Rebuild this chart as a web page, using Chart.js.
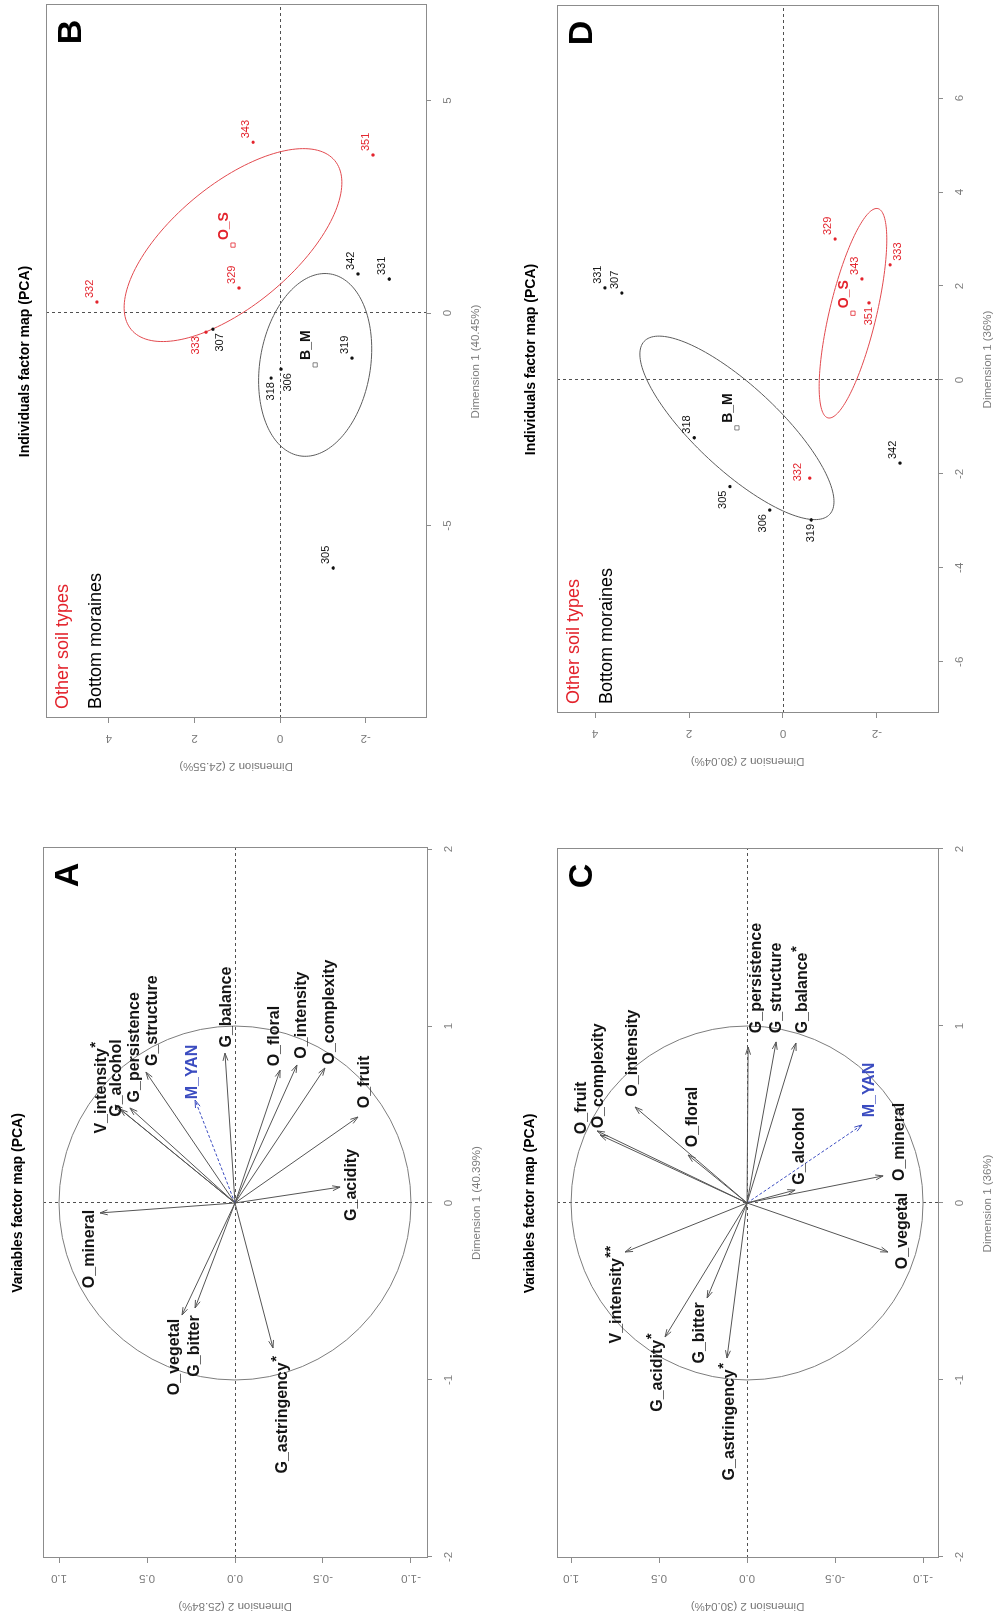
<!DOCTYPE html>
<html>
<head>
<meta charset="utf-8">
<title>PCA factor maps</title>
<script src="https://cdn.jsdelivr.net/npm/chart.js@4.4.1/dist/chart.umd.min.js"></script>
<style>
  html, body { margin: 0; padding: 0; background: #fff; overflow: hidden; }
  #page { position: relative; width: 997px; height: 1619px; overflow: hidden; background: #fff; }
  .panel { position: absolute; width: 500px; height: 810px; }
  /* each chart is drawn upright, then turned a quarter left like the scanned figure */
  .panel canvas { position: absolute; left: 0; top: 0; transform-origin: 0 0; transform: translateY(810px) rotate(-90deg); }
</style>
</head>
<body>
<div id="page">
  <div class="panel" style="left:0;top:0"><canvas id="chartB" width="810" height="500"></canvas></div>
  <div class="panel" style="left:497px;top:0"><canvas id="chartD" width="810" height="500"></canvas></div>
  <div class="panel" style="left:0;top:810px"><canvas id="chartA" width="810" height="500"></canvas></div>
  <div class="panel" style="left:497px;top:810px"><canvas id="chartC" width="810" height="500"></canvas></div>
</div>
<script>
const FONT = "'Liberation Sans', Arial, Helvetica, sans-serif";
const boxGray = '#8c8c8c';
const axisText = '#7c7c7c';
const arrowGray = '#555555';
const labelBlack = '#141414';
const soilRed = '#e3232c';
const suppBlue = '#3b4cc0';

// tick labels
const unitTicks = [-2, -1, 0, 1, 2];
const corTicks = [-1, -0.5, 0, 0.5, 1];
const dim1TicksB = [-5, 0, 5];
const dim1TicksD = [-6, -4, -2, 0, 2, 4, 6];
const dim2TicksInd = [-2, 0, 2, 4];

const suppVar = 'M_YAN';
const legendLabels = ['Other soil types', 'Bottom moraines'];
const groupNames = ['O_S', 'B_M'];

// Panel A: variables, first analysis
const varNamesA = ['V_intensity', 'G_alcohol', 'G_persistence', 'G_structure', 'M_YAN', 'G_balance', 'O_floral',
  'O_intensity', 'O_complexity', 'O_fruit', 'G_acidity', 'O_mineral', 'O_vegetal', 'G_bitter', 'G_astringency'];
const starsA = ['*', '', '', '', '', '', '', '', '', '', '', '', '', '', '*'];
const dim1A = [0.554, 0.531, 0.537, 0.740, 0.582, 0.847, 0.751, 0.780, 0.763, 0.486, 0.090, -0.056, -0.633, -0.593, -0.819];
const dim2A = [0.682, 0.653, 0.597, 0.506, 0.227, 0.057, -0.256, -0.352, -0.511, -0.699, -0.597, 0.767, 0.301, 0.227, -0.216];
const labDim1A = [0.650, 0.706, 0.880, 1.030, 0.740, 1.107, 0.943, 1.062, 1.079, 0.684, 0.102, -0.260, -0.870, -0.808, -1.198];
const labDim2A = [0.756, 0.670, 0.568, 0.470, 0.240, 0.045, -0.227, -0.381, -0.540, -0.739, -0.665, 0.824, 0.341, 0.227, -0.273];

// Panel C: variables, second analysis
const varNamesC = ['G_persistence', 'G_structure', 'G_balance', 'O_fruit', 'O_complexity', 'O_intensity', 'O_floral',
  'G_alcohol', 'M_YAN', 'O_mineral', 'O_vegetal', 'V_intensity', 'G_acidity', 'G_bitter', 'G_astringency'];
const starsC = ['', '', '*', '', '', '', '', '', '', '', '', '**', '*', '', '*'];
const dim1C = [0.881, 0.910, 0.904, 0.407, 0.384, 0.542, 0.271, 0.073, 0.441, 0.153, -0.277, -0.277, -0.757, -0.537, -0.876];
const dim2C = [-0.006, -0.165, -0.278, 0.852, 0.835, 0.636, 0.335, -0.273, -0.653, -0.773, -0.801, 0.693, 0.466, 0.227, 0.114];
const labDim1C = [1.271, 1.215, 1.203, 0.537, 0.718, 0.847, 0.486, 0.322, 0.638, 0.345, -0.158, -0.520, -0.960, -0.734, -1.237];
const labDim2C = [-0.057, -0.170, -0.318, 0.938, 0.841, 0.653, 0.307, -0.301, -0.699, -0.869, -0.881, 0.739, 0.506, 0.267, 0.097];

// Panel B: individuals, first analysis
const idsRedB = ['343', '351', '332', '329', '333'];
const dim1RedB = [4.02, 3.72, 0.26, 0.59, -0.45];
const dim2RedB = [0.63, -2.17, 4.28, 0.96, 1.73];
const posRedB = ['r', 'r', 'r', 'r', 'lu'];
const idsBlackB = ['342', '331', '307', '319', '318', '306', '305'];
const dim1BlackB = [0.92, 0.80, -0.38, -1.06, -1.53, -1.32, -6.00];
const dim2BlackB = [-1.82, -2.55, 1.57, -1.68, 0.21, -0.02, -1.24];
const posBlackB = ['r', 'r', 'ld', 'r', 'lm', 'ld', 'r'];
const groupDim1B = [1.60, -1.22];
const groupDim2B = [1.10, -0.82];
const ellAxisAB = [3.10, 2.17];
const ellAxisBB = [1.42, 1.29];
const ellAngleB = [-50, -9.5];

// Panel D: individuals, second analysis
const idsRedD = ['329', '343', '333', '351', '332'];
const dim1RedD = [3.00, 2.15, 2.45, 1.64, -2.09];
const dim2RedD = [-1.11, -1.68, -2.28, -1.83, -0.57];
const posRedD = ['r', 'r', 'rd', 'lm', 'a'];
const idsBlackD = ['331', '307', '318', '305', '306', '319', '342'];
const dim1BlackD = [1.96, 1.85, -1.23, -2.27, -2.77, -2.98, -1.77];
const dim2BlackD = [3.79, 3.43, 1.89, 1.13, 0.28, -0.60, -2.49];
const posBlackD = ['r', 'r', 'r', 'l', 'l', 'lm', 'r'];
const groupDim1D = [1.42, -1.02];
const groupDim2D = [-1.49, 0.98];
const ellAxisAD = [2.29, 2.70];
const ellAxisBD = [0.50, 0.89];
const ellAngleD = [-13.4, 47];

// text placement next to a point: [align, dx, dy]
const placement = {
  r: ['left', 4, -7], l: ['right', -4, -7], lu: ['right', -4, -10], lm: ['right', -4, 0],
  ld: ['right', -4, 7], rd: ['left', 4, 8], a: ['center', 6, -12], c: ['left', 5, -9]
};

function tickGrid() {
  return { display: true, drawOnChartArea: false, drawTicks: true, tickLength: 5, color: boxGray, lineWidth: 1 };
}

function arrowHead(ctx, x0, y0, x1, y1, len, ang) {
  const t = Math.atan2(y1 - y0, x1 - x0);
  ctx.beginPath();
  ctx.moveTo(x1 - len * Math.cos(t - ang), y1 - len * Math.sin(t - ang));
  ctx.lineTo(x1, y1);
  ctx.lineTo(x1 - len * Math.cos(t + ang), y1 - len * Math.sin(t + ang));
  ctx.stroke();
}

function drawVarLabel(ctx, px, py, name, star, color) {
  ctx.font = `bold 16px ${FONT}`;
  const w1 = ctx.measureText(name).width;
  ctx.font = `bold 15px ${FONT}`;
  const w2 = star ? ctx.measureText(star).width : 0;
  const left = px - (w1 + w2) / 2;
  ctx.fillStyle = color;
  ctx.textAlign = 'left';
  ctx.textBaseline = 'middle';
  ctx.font = `bold 16px ${FONT}`;
  ctx.fillText(name, left, py);
  if (star) {
    ctx.font = `bold 15px ${FONT}`;
    ctx.fillText(star, left + w1 + 0.5, py - 6);
  }
}

function strokeEllipse(ctx, x, y, cx, cy, ea, eb, angle) {
  const c = Math.cos(angle * Math.PI / 180), s = Math.sin(angle * Math.PI / 180);
  ctx.beginPath();
  for (let k = 0; k <= 160; k++) {
    const t = k / 160 * 2 * Math.PI;
    const u = ea * Math.cos(t), v = eb * Math.sin(t);
    const px = x.getPixelForValue(cx + u * c - v * s);
    const py = y.getPixelForValue(cy + u * s + v * c);
    if (k === 0) ctx.moveTo(px, py); else ctx.lineTo(px, py);
  }
  ctx.stroke();
}

function decorPlugin(cfg) {
  return {
    id: 'pcaDecor',
    beforeDatasetsDraw(chart) {
      const { ctx, chartArea: a, scales: { x, y } } = chart;
      ctx.save();
      ctx.lineWidth = 1;
      ctx.strokeStyle = '#505050';
      ctx.setLineDash([3, 3]);
      const x0 = Math.round(x.getPixelForValue(0)) + 0.5;
      const y0 = Math.round(y.getPixelForValue(0)) + 0.5;
      ctx.beginPath();
      ctx.moveTo(a.left, y0); ctx.lineTo(a.right, y0);
      ctx.moveTo(x0, a.top); ctx.lineTo(x0, a.bottom);
      ctx.stroke();
      ctx.setLineDash([]);
      if (cfg.circle) {
        ctx.strokeStyle = '#7d7d7d';
        ctx.beginPath();
        ctx.ellipse(x.getPixelForValue(0), y.getPixelForValue(0),
          x.getPixelForValue(1) - x.getPixelForValue(0), y.getPixelForValue(0) - y.getPixelForValue(1), 0, 0, Math.PI * 2);
        ctx.stroke();
      }
      if (cfg.ell) {
        const e = cfg.ell;
        e.cx.forEach((cx, i) => {
          ctx.strokeStyle = i === 0 ? '#e24a4f' : '#5c5c5c';
          strokeEllipse(ctx, x, y, cx, e.cy[i], e.a[i], e.b[i], e.angle[i]);
        });
      }
      ctx.restore();
    },
    afterDatasetsDraw(chart) {
      const { ctx, chartArea: a, scales: { x, y } } = chart;
      ctx.save();
      ctx.strokeStyle = boxGray;
      ctx.lineWidth = 1;
      ctx.strokeRect(Math.round(a.left) + 0.5, Math.round(a.top) + 0.5, Math.round(a.right - a.left), Math.round(a.bottom - a.top));

      // y tick labels run along the axis, as R draws them
      ctx.fillStyle = axisText;
      ctx.font = `11.5px ${FONT}`;
      ctx.textAlign = 'center';
      ctx.textBaseline = 'middle';
      cfg.yTicks.forEach(v => {
        ctx.save();
        ctx.translate(a.left - 20, y.getPixelForValue(v));
        ctx.rotate(-Math.PI / 2);
        ctx.fillText(cfg.yFmt(v), 0, 0);
        ctx.restore();
      });

      if (cfg.vars) {
        const v = cfg.vars;
        chart.data.datasets.forEach((ds, i) => {
          const pts = chart.getDatasetMeta(i).data;
          const supp = v.names[i] === suppVar;
          ctx.strokeStyle = supp ? suppBlue : arrowGray;
          arrowHead(ctx, pts[0].x, pts[0].y, pts[1].x, pts[1].y, 8, Math.PI / 10);
          drawVarLabel(ctx, x.getPixelForValue(v.lab1[i]), y.getPixelForValue(v.lab2[i]),
            v.names[i], v.stars[i], supp ? suppBlue : labelBlack);
        });
      }

      if (cfg.points) {
        cfg.points.forEach(g => {
          const pts = chart.getDatasetMeta(g.dataset).data;
          ctx.fillStyle = g.color;
          ctx.font = g.bold ? `bold 14px ${FONT}` : `11px ${FONT}`;
          ctx.textBaseline = 'middle';
          g.ids.forEach((id, j) => {
            const [align, dx, dy] = placement[g.pos[j]];
            ctx.textAlign = align;
            ctx.fillText(id, pts[j].x + dx, pts[j].y + dy);
          });
        });
        ctx.font = `18px ${FONT}`;
        ctx.textAlign = 'left';
        ctx.fillStyle = soilRed;
        ctx.fillText(legendLabels[0], a.left + 9, a.top + 17);
        ctx.fillStyle = '#000';
        ctx.fillText(legendLabels[1], a.left + 9, a.top + 50);
      }

      ctx.fillStyle = '#000';
      ctx.textAlign = 'center';
      ctx.font = `bold 14px ${FONT}`;
      ctx.fillText(cfg.title, (a.left + a.right) / 2, a.top - cfg.titleGap);
      ctx.font = `bold 34px ${FONT}`;
      ctx.fillText(cfg.letter, a.right - 27, a.top + 26);
      ctx.restore();
    }
  };
}

function makePanel(id, cfg) {
  const a = cfg.area;
  new Chart(document.getElementById(id), {
    type: 'scatter',
    data: { datasets: cfg.datasets },
    options: {
      responsive: false,
      animation: false,
      devicePixelRatio: 1,
      events: [],
      layout: { padding: { left: 0, top: a.top, right: 810 - a.right, bottom: 0 } },
      plugins: { legend: { display: false }, tooltip: { enabled: false }, title: { display: false } },
      scales: {
        x: {
          type: 'linear', position: 'bottom', min: cfg.xMin, max: cfg.xMax,
          afterBuildTicks: s => { s.ticks = cfg.xTicks.map(v => ({ value: v })); },
          afterFit: s => { s.height = 500 - a.bottom; },
          grid: tickGrid(),
          border: { display: false },
          ticks: { color: axisText, font: { family: FONT, size: 11.5 }, padding: 10, maxRotation: 0, autoSkip: false, callback: v => String(v) },
          title: { display: true, text: cfg.xTitle, color: axisText, font: { family: FONT, size: 11.5 },
            padding: { top: 0, bottom: 500 - a.bottom - 50 - 6.9 } }
        },
        y: {
          type: 'linear', position: 'left', min: cfg.yMin, max: cfg.yMax,
          afterBuildTicks: s => { s.ticks = cfg.yTicks.map(v => ({ value: v })); },
          afterFit: s => { s.width = a.left; },
          grid: tickGrid(),
          border: { display: false },
          ticks: { display: false },
          title: { display: true, text: cfg.yTitle, color: axisText, font: { family: FONT, size: 11.5 },
            padding: { top: a.left - 48 - 6.9, bottom: 0 } }
        }
      }
    },
    plugins: [decorPlugin(cfg)]
  });
}

function varDatasets(names, d1, d2) {
  return names.map((n, i) => ({
    label: n,
    data: [{ x: 0, y: 0 }, { x: d1[i], y: d2[i] }],
    showLine: true,
    borderColor: n === suppVar ? suppBlue : arrowGray,
    borderDash: n === suppVar ? [3, 2] : [],
    borderWidth: 1,
    pointRadius: 0
  }));
}

function pointSet(d1, d2, color) {
  return {
    data: d1.map((v, i) => ({ x: v, y: d2[i] })),
    pointRadius: 1.7, pointBorderWidth: 0,
    pointBackgroundColor: color, backgroundColor: color, borderColor: color
  };
}

function centroidSet(gx, gy, color) {
  return {
    data: [{ x: gx, y: gy }],
    pointStyle: 'rect', pointRadius: 3, pointBorderWidth: 0.8,
    pointBackgroundColor: 'rgba(255,255,255,0)', pointBorderColor: color
  };
}

const fmtInt = v => String(v);
const fmtCor = v => v.toFixed(1);

makePanel('chartA', {
  area: { left: 62, top: 43, right: 772, bottom: 427 },
  xMin: -2.006, xMax: 2.006, yMin: -1.091, yMax: 1.091,
  xTicks: unitTicks, yTicks: corTicks, yFmt: fmtCor,
  xTitle: 'Dimension 1 (40.39%)', yTitle: 'Dimension 2 (25.84%)',
  title: 'Variables factor map (PCA)', titleGap: 25, letter: 'A', circle: true,
  datasets: varDatasets(varNamesA, dim1A, dim2A),
  vars: { names: varNamesA, stars: starsA, lab1: labDim1A, lab2: labDim2A }
});

makePanel('chartC', {
  area: { left: 62, top: 60, right: 771, bottom: 441 },
  xMin: -2.006, xMax: 2.0, yMin: -1.085, yMax: 1.08,
  xTicks: unitTicks, yTicks: corTicks, yFmt: fmtCor,
  xTitle: 'Dimension 1 (36%)', yTitle: 'Dimension 2 (30.04%)',
  title: 'Variables factor map (PCA)', titleGap: 27, letter: 'C', circle: true,
  datasets: varDatasets(varNamesC, dim1C, dim2C),
  vars: { names: varNamesC, stars: starsC, lab1: labDim1C, lab2: labDim2C }
});

makePanel('chartB', {
  area: { left: 92, top: 46, right: 805, bottom: 426 },
  xMin: -9.53, xMax: 7.25, yMin: -3.41, yMax: 5.47,
  xTicks: dim1TicksB, yTicks: dim2TicksInd, yFmt: fmtInt,
  xTitle: 'Dimension 1 (40.45%)', yTitle: 'Dimension 2 (24.55%)',
  title: 'Individuals factor map (PCA)', titleGap: 21, letter: 'B',
  datasets: [
    pointSet(dim1RedB, dim2RedB, soilRed),
    pointSet(dim1BlackB, dim2BlackB, '#111'),
    centroidSet(groupDim1B[0], groupDim2B[0], soilRed),
    centroidSet(groupDim1B[1], groupDim2B[1], '#666')
  ],
  points: [
    { dataset: 0, ids: idsRedB, pos: posRedB, color: soilRed },
    { dataset: 1, ids: idsBlackB, pos: posBlackB, color: '#111' },
    { dataset: 2, ids: [groupNames[0]], pos: ['c'], color: soilRed, bold: true },
    { dataset: 3, ids: [groupNames[1]], pos: ['c'], color: '#111', bold: true }
  ],
  ell: { cx: groupDim1B, cy: groupDim2B, a: ellAxisAB, b: ellAxisBB, angle: ellAngleB }
});

makePanel('chartD', {
  area: { left: 97, top: 60, right: 804, bottom: 441 },
  xMin: -7.09, xMax: 7.96, yMin: -3.30, yMax: 4.81,
  xTicks: dim1TicksD, yTicks: dim2TicksInd, yFmt: fmtInt,
  xTitle: 'Dimension 1 (36%)', yTitle: 'Dimension 2 (30.04%)',
  title: 'Individuals factor map (PCA)', titleGap: 26, letter: 'D',
  datasets: [
    pointSet(dim1RedD, dim2RedD, soilRed),
    pointSet(dim1BlackD, dim2BlackD, '#111'),
    centroidSet(groupDim1D[0], groupDim2D[0], soilRed),
    centroidSet(groupDim1D[1], groupDim2D[1], '#666')
  ],
  points: [
    { dataset: 0, ids: idsRedD, pos: posRedD, color: soilRed },
    { dataset: 1, ids: idsBlackD, pos: posBlackD, color: '#111' },
    { dataset: 2, ids: [groupNames[0]], pos: ['c'], color: soilRed, bold: true },
    { dataset: 3, ids: [groupNames[1]], pos: ['c'], color: '#111', bold: true }
  ],
  ell: { cx: groupDim1D, cy: groupDim2D, a: ellAxisAD, b: ellAxisBD, angle: ellAngleD }
});
</script>
</body>
</html>
